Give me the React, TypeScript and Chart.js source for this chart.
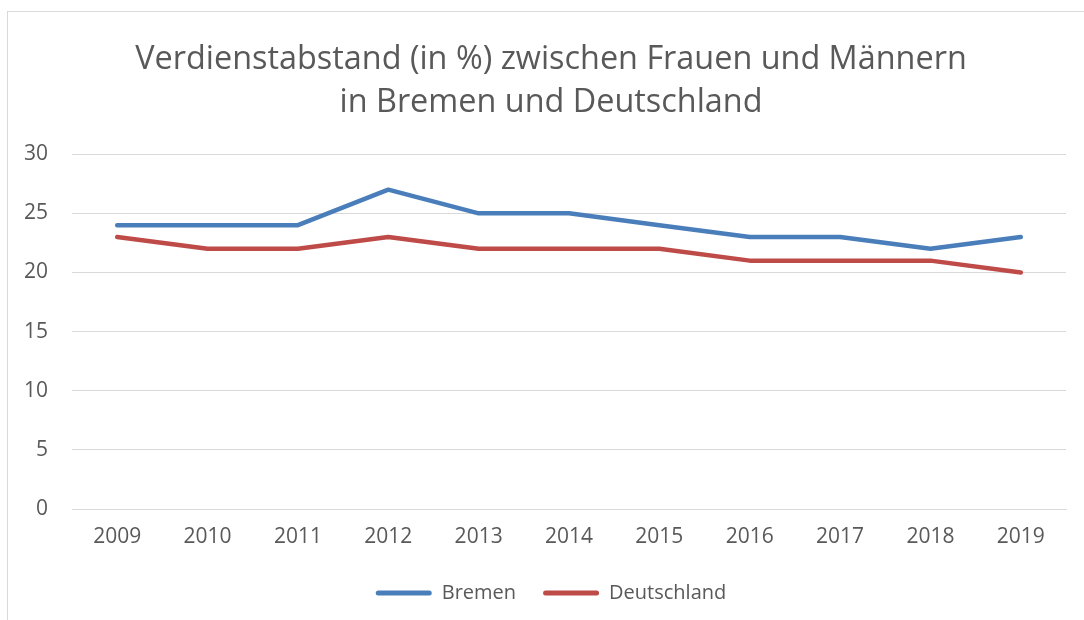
import React, { useEffect, useRef } from "react";
import { Chart, registerables } from "chart.js";

Chart.register(...registerables);

const years = ["2009", "2010", "2011", "2012", "2013", "2014", "2015", "2016", "2017", "2018", "2019"];
const bremen = [24, 24, 24, 27, 25, 25, 24, 23, 23, 22, 23];
const deutschland = [23, 22, 22, 23, 22, 22, 22, 21, 21, 21, 20];
const titleLines = ["Verdienstabstand (in %) zwischen Frauen und Männern", "in Bremen und Deutschland"];

const TEXT = "#595959";
const GRID = "#d9d9d9";
const BLUE = "#4a7ebb";
const RED = "#be4b48";
const FONT = "'Open Sans', sans-serif";

export default function App() {
  const ref = useRef<HTMLCanvasElement | null>(null);

  useEffect(() => {
    if (!ref.current) return;
    const chart = new Chart(ref.current, {
      type: "line",
      data: {
        labels: years,
        datasets: [
          {
            label: "Bremen",
            data: bremen,
            borderColor: BLUE,
            backgroundColor: BLUE,
            borderWidth: 4.5,
            borderCapStyle: "round",
            borderJoinStyle: "round",
            pointRadius: 0,
            tension: 0,
          },
          {
            label: "Deutschland",
            data: deutschland,
            borderColor: RED,
            backgroundColor: RED,
            borderWidth: 4.5,
            borderCapStyle: "round",
            borderJoinStyle: "round",
            pointRadius: 0,
            tension: 0,
          },
        ],
      },
      options: {
        responsive: false,
        animation: false,
        layout: { padding: { left: 18, right: 0, top: 0, bottom: 7 } },
        plugins: {
          title: {
            display: true,
            text: titleLines,
            color: TEXT,
            font: { family: FONT, size: 32.4, weight: "normal", lineHeight: 1.33 },
            padding: { top: 38, bottom: 30 },
          },
          legend: {
            position: "bottom",
            labels: {
              color: TEXT,
              font: { family: FONT, size: 20 },
              boxWidth: 56,
              boxHeight: 5,
              padding: 27,
              useBorderRadius: true,
              borderRadius: 2.5,
              generateLabels: (c: any) =>
                c.data.datasets.map((ds: any, i: number) => ({
                  text: ds.label,
                  fillStyle: ds.borderColor,
                  strokeStyle: ds.borderColor,
                  lineWidth: 0,
                  fontColor: TEXT,
                  datasetIndex: i,
                  hidden: false,
                  borderRadius: 2.5,
                })),
            },
          },
          tooltip: { enabled: false },
        },
        scales: {
          x: {
            offset: true,
            grid: { display: false, drawTicks: false, offset: true },
            border: { display: true, color: GRID, width: 1 },
            ticks: { color: TEXT, font: { family: FONT, size: 21 }, padding: 15, maxRotation: 0 },
            afterFit: (s: any) => {
              s.height = 47;
            },
          },
          y: {
            min: 0,
            max: 30,
            ticks: { stepSize: 5, color: TEXT, font: { family: FONT, size: 21 }, padding: 24 },
            grid: { color: GRID, lineWidth: 1, drawTicks: false },
            border: { display: false },
            afterFit: (s: any) => {
              s.width = 54;
            },
          },
          yRight: {
            type: "linear",
            position: "right",
            display: true,
            min: 0,
            max: 30,
            ticks: { display: false },
            grid: { display: false, drawTicks: false },
            border: { display: false },
            afterFit: (s: any) => {
              s.width = 18;
            },
          },
        },
      },
    });
    return () => chart.destroy();
  }, []);

  return (
    <div
      style={{
        position: "fixed",
        left: 0,
        top: 0,
        width: 1084,
        height: 620,
        overflow: "hidden",
        background: "#fff",
      }}
    >
      <div
        style={{
          position: "absolute",
          left: 7,
          top: 11,
          width: 1200,
          height: 800,
          border: `1px solid ${GRID}`,
          boxSizing: "border-box",
        }}
      />
      <canvas ref={ref} width={1084} height={620} style={{ position: "absolute", left: 0, top: 0 }} />
    </div>
  );
}
